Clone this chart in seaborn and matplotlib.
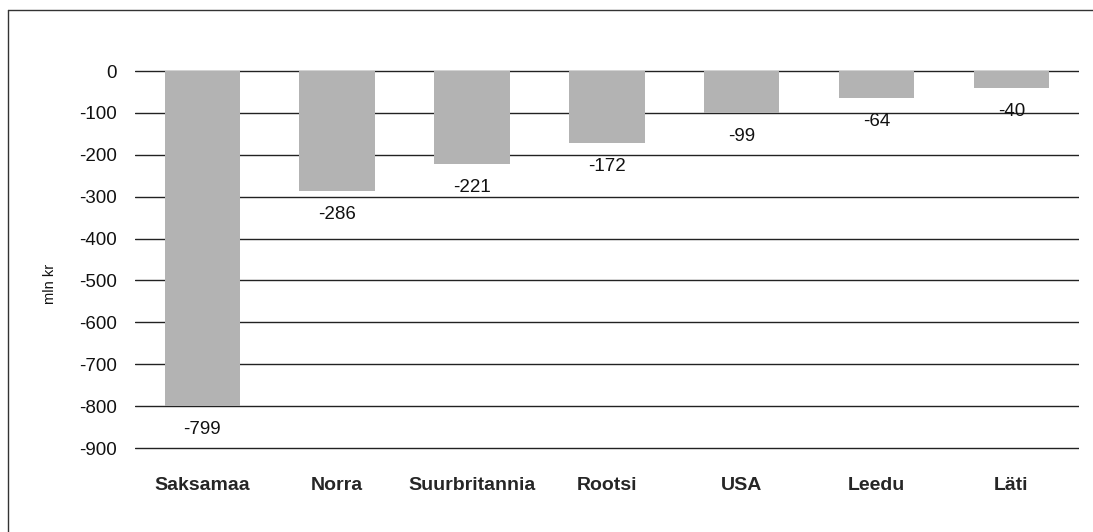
import matplotlib
matplotlib.use("Agg")
import matplotlib.pyplot as plt
import seaborn as sns
import pandas as pd
from matplotlib.lines import Line2D

countries = ["Saksamaa", "Norra", "Suurbritannia", "Rootsi", "USA", "Leedu", "Läti"]
values = [-799, -286, -221, -172, -99, -64, -40]
y_ticks = [0, -100, -200, -300, -400, -500, -600, -700, -800, -900]

df = pd.DataFrame({"country": countries, "value": values})

sns.set_theme(style="white")
plt.rcParams["font.family"] = ["Liberation Sans", "DejaVu Sans"]
plt.rcParams["axes.unicode_minus"] = False

fig = plt.figure(figsize=(10.93, 5.32), dpi=100)
# a little slack below -900 so the last grid line is not clipped
ax = fig.add_axes([0.1235, 0.15, 0.8635, 0.718])

sns.barplot(data=df, x="country", y="value", color="#b3b3b3", saturation=1,
            width=0.56, ax=ax, zorder=3)
for p in ax.patches:
    p.set_edgecolor("none")

ax.set_ylim(-910, 2)
ax.set_yticks(y_ticks)
ax.yaxis.grid(True, color="#222222", linewidth=1.0)
ax.set_axisbelow(True)

for i, v in enumerate(values):
    ax.annotate(str(v), xy=(i, v), xytext=(0, -11), textcoords="offset points",
                ha="center", va="top", fontsize=13.5, color="#111111")

for s in ax.spines.values():
    s.set_visible(False)
ax.tick_params(axis="both", length=0)
ax.tick_params(axis="y", pad=13, labelsize=13.5, labelcolor="#111111")
ax.tick_params(axis="x", pad=17.5, labelsize=14)
for lab in ax.get_xticklabels():
    lab.set_fontweight("bold")
ax.set_xlabel("")
ax.set_ylabel("mln kr", fontsize=10.5, color="#111111")
ax.yaxis.set_label_coords(-0.083, 0.44)

# frame lines at the top and left edge
fig.add_artist(Line2D([8 / 1093, 8 / 1093], [0, 1 - 10 / 532],
                      transform=fig.transFigure, color="#333333", linewidth=1))
fig.add_artist(Line2D([8 / 1093, 1], [1 - 10 / 532, 1 - 10 / 532],
                      transform=fig.transFigure, color="#333333", linewidth=1))

fig.savefig("out.png", dpi=100)
